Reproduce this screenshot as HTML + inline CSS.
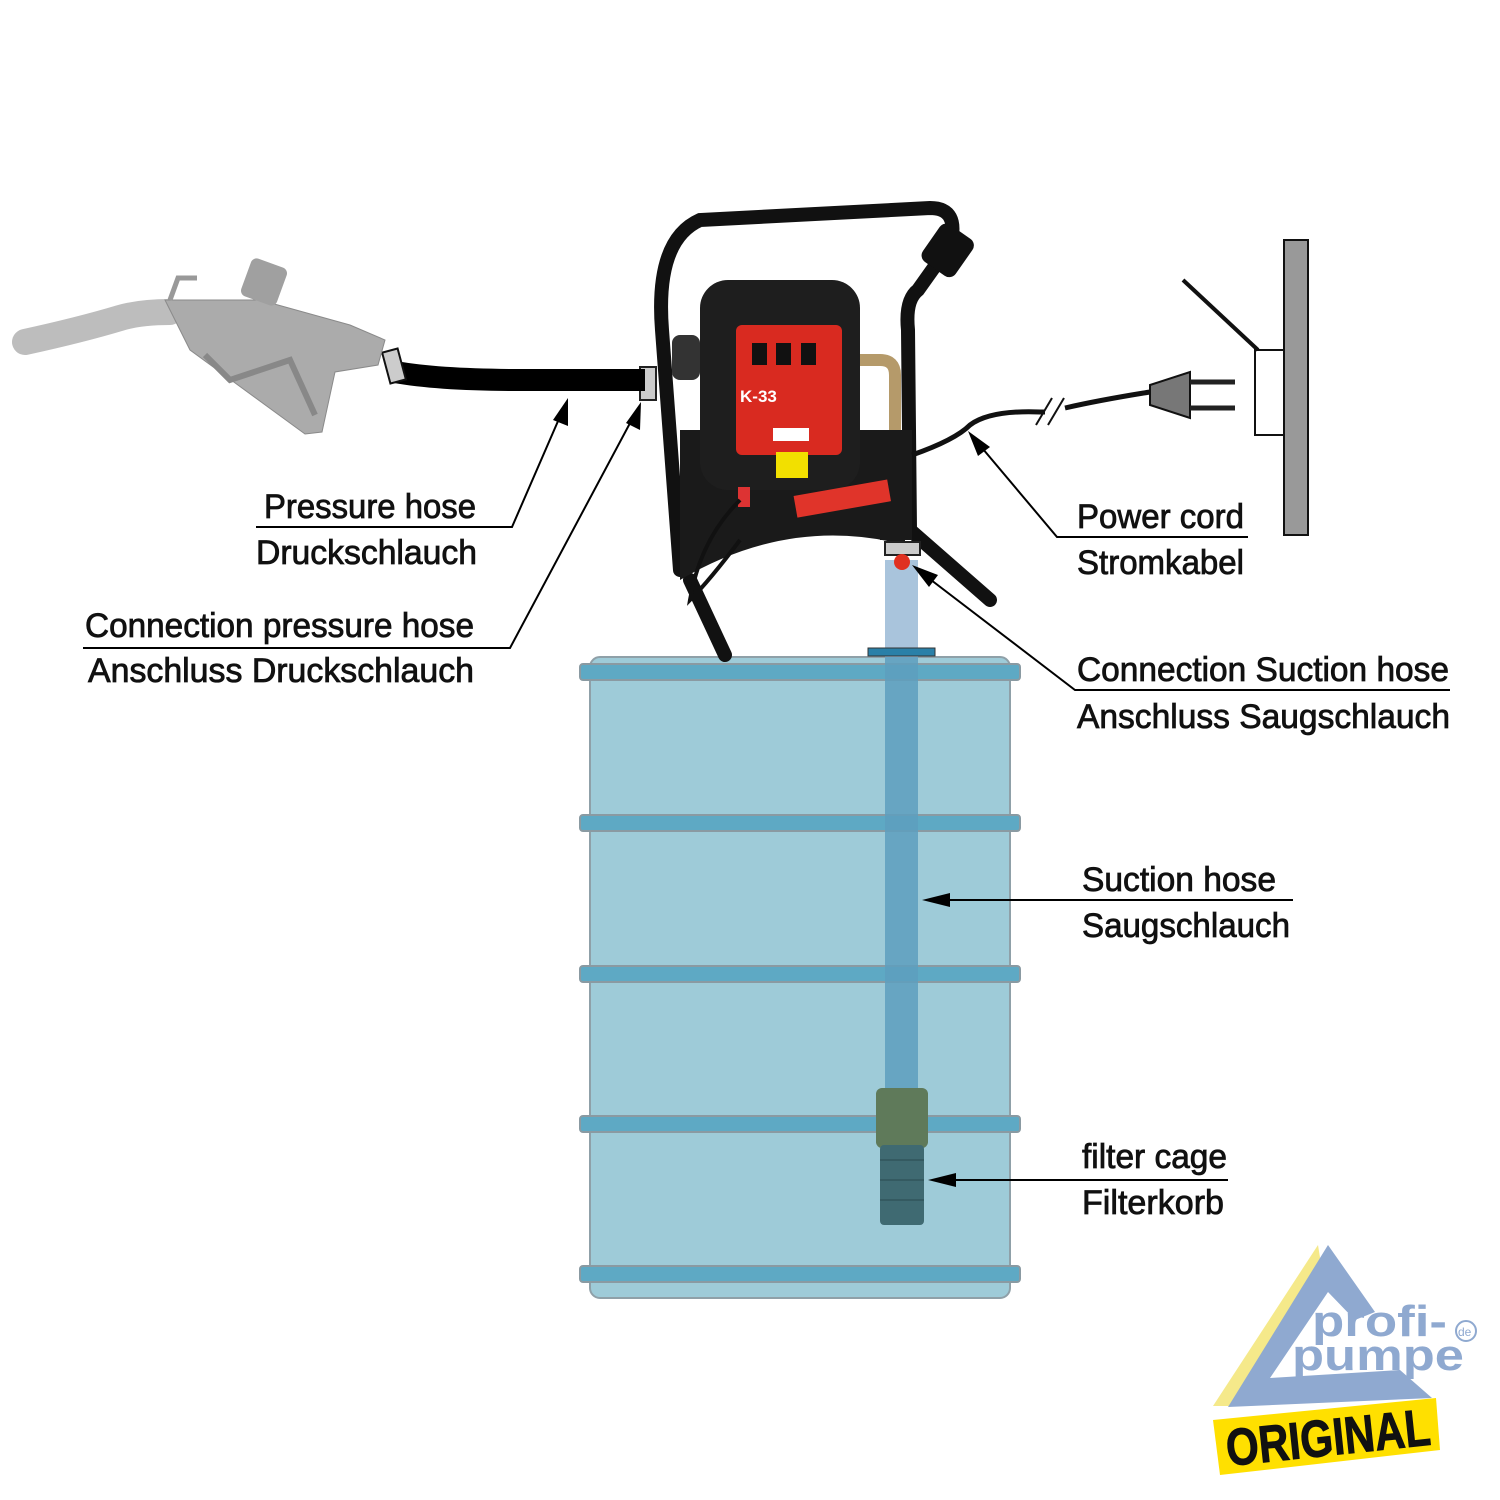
<!DOCTYPE html>
<html><head><meta charset="utf-8"><style>
html,body{margin:0;padding:0;background:#fff;}
svg{display:block;}
text{font-family:"Liberation Sans Narrow","Liberation Sans",sans-serif;font-size:34px;fill:#111;stroke:#111;stroke-width:0.8px;}
</style></head><body>
<svg width="1500" height="1500" viewBox="0 0 1500 1500" xmlns="http://www.w3.org/2000/svg">

<!-- Barrel -->
<rect x="590" y="657" width="420" height="641" rx="10" fill="#9ecbd8" stroke="#8fa0a8" stroke-width="2"/>
<g fill="#5ea9c4" stroke="#8a9aa2" stroke-width="2">
<rect x="580" y="664" width="440" height="16" rx="3"/>
<rect x="580" y="815" width="440" height="16" rx="3"/>
<rect x="580" y="966" width="440" height="16" rx="3"/>
<rect x="580" y="1116" width="440" height="16" rx="3"/>
<rect x="580" y="1266" width="440" height="16" rx="3"/>
</g>
<!-- suction hose -->
<rect x="885" y="560" width="33" height="100" fill="#a9c4dc"/>
<rect x="885" y="657" width="33" height="440" fill="#5d9fbe" opacity="0.85"/>
<rect x="868" y="648" width="67" height="8" fill="#2a80a8" stroke="#333" stroke-width="1"/>
<!-- filter -->
<rect x="876" y="1088" width="52" height="60" rx="6" fill="#5f7a5a"/>
<rect x="880" y="1145" width="44" height="80" rx="4" fill="#3f6a72"/>
<g stroke="#2a4a50" stroke-width="1">
<line x1="880" y1="1160" x2="924" y2="1160"/><line x1="880" y1="1180" x2="924" y2="1180"/><line x1="880" y1="1200" x2="924" y2="1200"/>
</g>

<!-- Pump frame -->
<path d="M680 570 L662 330 Q655 240 700 220 L930 208 Q960 208 950 245 L918 290 Q905 300 908 330 L910 530 L990 600" fill="none" stroke="#111" stroke-width="14" stroke-linecap="round"/>
<rect x="928" y="228" width="40" height="45" rx="8" fill="#111" transform="rotate(35 948 250)"/>
<line x1="690" y1="580" x2="725" y2="655" stroke="#111" stroke-width="14" stroke-linecap="round"/>
<path d="M680 430 L905 430 L905 545 Q790 515 680 580 Z" fill="#1a1a1a"/>
<!-- meter -->
<rect x="700" y="280" width="160" height="210" rx="28" fill="#1e1e1e"/>
<rect x="736" y="325" width="106" height="130" rx="6" fill="#d92a20"/>
<rect x="752" y="343" width="15" height="22" fill="#111"/><rect x="776" y="343" width="15" height="22" fill="#111"/><rect x="801" y="343" width="15" height="22" fill="#111"/>
<text x="740" y="402" style="font-size:17px;fill:#fff;stroke:none;font-weight:bold;font-family:'Liberation Sans',sans-serif">K-33</text>
<rect x="773" y="428" width="36" height="13" fill="#fff"/>
<rect x="776" y="452" width="32" height="26" fill="#f2e000"/>
<rect x="672" y="335" width="28" height="45" rx="8" fill="#333"/>
<rect x="640" y="367" width="16" height="33" fill="#ccc" stroke="#222" stroke-width="2"/>
<!-- elbow pipe -->
<path d="M860 360 L880 360 Q895 360 895 375 L895 430" fill="none" stroke="#b59a6a" stroke-width="12"/>
<rect x="880" y="430" width="32" height="110" fill="#1a1a1a"/>
<rect x="795" y="488" width="95" height="22" fill="#e0342a" transform="rotate(-10 840 500)"/>
<rect x="738" y="487" width="12" height="20" fill="#d33"/>
<path d="M740 500 Q700 540 690 600 Q710 580 740 540" fill="none" stroke="#111" stroke-width="4"/>
<rect x="885" y="542" width="35" height="13" fill="#ccc" stroke="#222" stroke-width="2"/>
<circle cx="902" cy="562" r="8" fill="#e03020"/>

<!-- Pressure hose -->
<path d="M395 372 Q440 380 520 380 L645 380" fill="none" stroke="#000" stroke-width="22"/>
<rect x="386" y="350" width="16" height="32" fill="#ccc" stroke="#111" stroke-width="2" transform="rotate(-15 394 366)"/>
<!-- nozzle -->
<path d="M25 342 Q80 330 120 318 Q140 312 170 312" fill="none" stroke="#bdbdbd" stroke-width="26" stroke-linecap="round"/>
<path d="M165 300 L260 300 L350 325 L385 340 L378 365 L335 372 L322 432 L305 434 L190 350 Z" fill="#ababab" stroke="#8a8a8a"/>
<path d="M205 355 L230 380 L290 360 L315 415" fill="none" stroke="#888" stroke-width="6"/>
<rect x="245" y="262" width="38" height="40" rx="6" fill="#a0a0a0" transform="rotate(20 264 282)"/>
<path d="M170 300 L178 278 L197 278" fill="none" stroke="#999" stroke-width="5"/>

<!-- Power cord -->
<path d="M912 455 Q955 440 970 425 Q990 410 1040 412 L1045 412 M1065 408 Q1100 400 1150 392" fill="none" stroke="#111" stroke-width="5"/>
<line x1="1036" y1="425" x2="1052" y2="398" stroke="#111" stroke-width="2"/>
<line x1="1048" y1="425" x2="1064" y2="398" stroke="#111" stroke-width="2"/>
<path d="M1150 385 L1190 372 L1190 418 L1150 405 Z" fill="#777" stroke="#111" stroke-width="2"/>
<line x1="1190" y1="382" x2="1235" y2="382" stroke="#222" stroke-width="5"/>
<line x1="1190" y1="408" x2="1235" y2="408" stroke="#222" stroke-width="5"/>
<!-- wall socket -->
<rect x="1284" y="240" width="24" height="295" fill="#999" stroke="#111" stroke-width="2"/>
<rect x="1255" y="350" width="29" height="85" fill="#fff" stroke="#111" stroke-width="2"/>
<line x1="1183" y1="280" x2="1258" y2="350" stroke="#111" stroke-width="4"/>

<!-- leader lines -->
<g stroke="#000" stroke-width="2" fill="none">
<polyline points="256,527 512,527 565,405"/>
<polyline points="83,648 510,648 637,410"/>
<polyline points="1248,537 1057,537 972,436"/>
<polyline points="1450,690 1075,690 918,570"/>
<line x1="1293" y1="900" x2="930" y2="900"/>
<line x1="1228" y1="1180" x2="935" y2="1180"/>
</g>
<g fill="#000">
<polygon points="568,398 568,426 553,420"/>
<polygon points="641,402 640,430 626,423"/>
<polygon points="968,431 990,447 978,456"/>
<polygon points="912,565 938,575 929,587"/>
<polygon points="922,900 950,893 950,907"/>
<polygon points="928,1180 956,1173 956,1187"/>
</g>

<!-- labels -->
<text x="264" y="518" textLength="212" lengthAdjust="spacingAndGlyphs">Pressure hose</text>
<text x="256" y="564" textLength="221" lengthAdjust="spacingAndGlyphs">Druckschlauch</text>
<text x="85" y="637" textLength="389" lengthAdjust="spacingAndGlyphs">Connection pressure hose</text>
<text x="88" y="682" textLength="386" lengthAdjust="spacingAndGlyphs">Anschluss Druckschlauch</text>
<text x="1077" y="528" textLength="167" lengthAdjust="spacingAndGlyphs">Power cord</text>
<text x="1077" y="574" textLength="167" lengthAdjust="spacingAndGlyphs">Stromkabel</text>
<text x="1077" y="681" textLength="372" lengthAdjust="spacingAndGlyphs">Connection Suction hose</text>
<text x="1077" y="728" textLength="373" lengthAdjust="spacingAndGlyphs">Anschluss Saugschlauch</text>
<text x="1082" y="891" textLength="194" lengthAdjust="spacingAndGlyphs">Suction hose</text>
<text x="1082" y="937" textLength="208" lengthAdjust="spacingAndGlyphs">Saugschlauch</text>
<text x="1082" y="1168" textLength="145" lengthAdjust="spacingAndGlyphs">filter cage</text>
<text x="1082" y="1214" textLength="142" lengthAdjust="spacingAndGlyphs">Filterkorb</text>

<!-- logo -->
<polygon points="1318,1245 1213,1406 1232,1406 1322,1270" fill="#f5e98a"/>
<polygon points="1328,1245 1228,1407 1432,1398 1400,1370 1270,1378 1328,1292 1355,1320 1375,1312" fill="#8fa9d0"/>
<text x="1312" y="1336" style="font-family:'Liberation Sans',sans-serif;font-weight:bold;font-size:44px;fill:#8fa9d0;stroke:none" textLength="135" lengthAdjust="spacingAndGlyphs">profi-</text>
<text x="1292" y="1370" style="font-family:'Liberation Sans',sans-serif;font-weight:bold;font-size:44px;fill:#8fa9d0;stroke:none" textLength="172" lengthAdjust="spacingAndGlyphs">pumpe</text>
<circle cx="1466" cy="1331" r="10" fill="none" stroke="#8fa9d0" stroke-width="2"/>
<text x="1458" y="1336" style="font-family:'Liberation Sans',sans-serif;font-size:12px;fill:#8fa9d0;stroke:none">de</text>
<polygon points="1213,1420 1436,1398 1440,1450 1220,1475" fill="#ffe000"/>
<text x="1228" y="1466" transform="rotate(-6 1228 1466)" style="font-family:'Liberation Sans Narrow','Liberation Sans',sans-serif;font-weight:bold;font-size:52px;fill:#111;stroke:#111;stroke-width:1px" textLength="205" lengthAdjust="spacingAndGlyphs">ORIGINAL</text>
</svg>
</body></html>
